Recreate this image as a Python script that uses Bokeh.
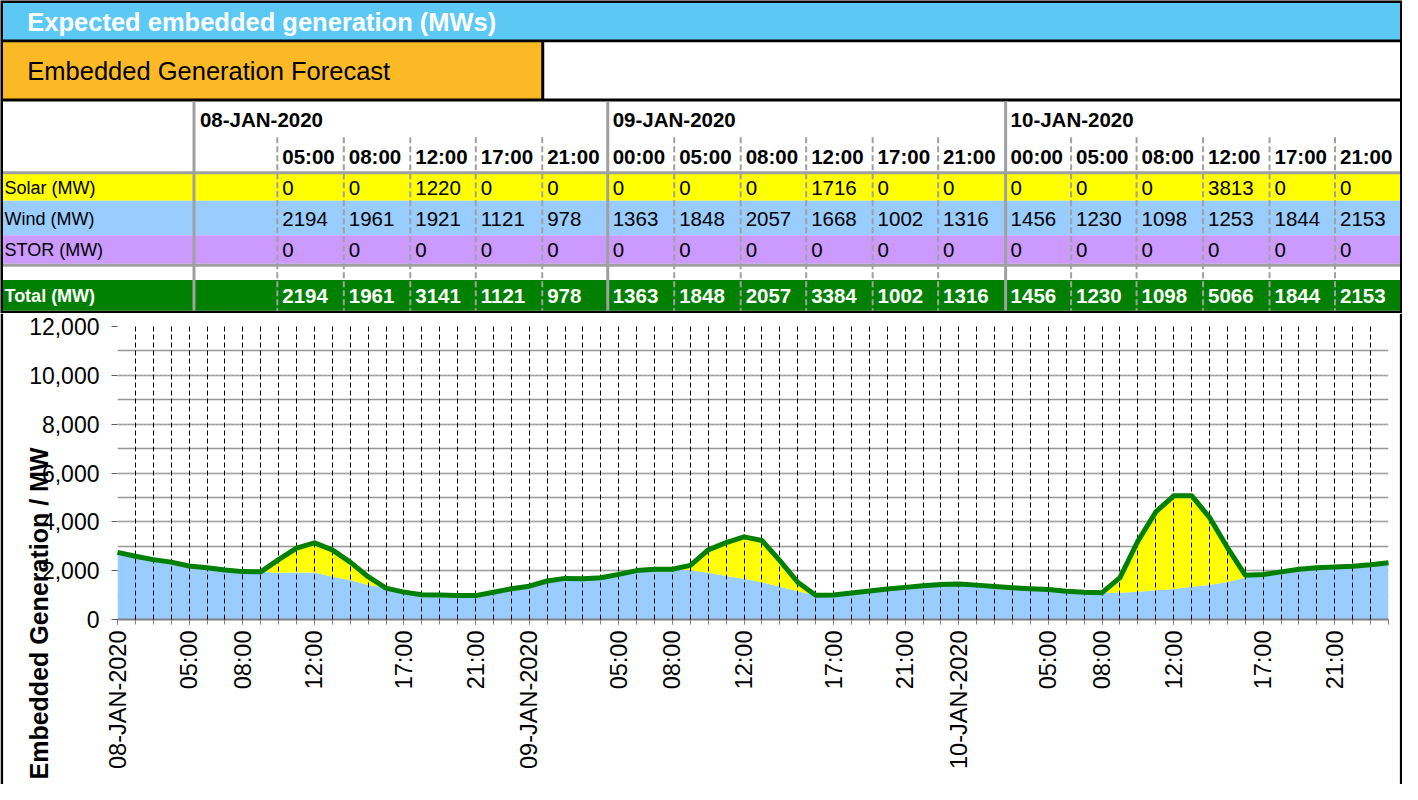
import math
from bokeh.plotting import figure
from bokeh.models import (Range1d, ColumnDataSource, FixedTicker, SingleIntervalTicker,
                          NumeralTickFormatter, GridBox)
from bokeh.layouts import column
from bokeh.core.properties import value
from bokeh.embed import file_html
from bokeh.resources import INLINE

# ---------------- data ----------------
title_text = "Expected embedded generation (MWs)"
subtitle_text = "Embedded Generation Forecast"
y_title = "Embedded Generation / MW"
dates = ["08-JAN-2020", "09-JAN-2020", "10-JAN-2020"]
row_labels = ["Solar (MW)", "Wind (MW)", "STOR (MW)", "Total (MW)"]
table_times = ["05:00", "08:00", "12:00", "17:00", "21:00",
               "00:00", "05:00", "08:00", "12:00", "17:00", "21:00",
               "00:00", "05:00", "08:00", "12:00", "17:00", "21:00"]
solar_tab = [0, 0, 1220, 0, 0, 0, 0, 0, 1716, 0, 0, 0, 0, 0, 3813, 0, 0]
wind_tab = [2194, 1961, 1921, 1121, 978, 1363, 1848, 2057, 1668, 1002, 1316,
            1456, 1230, 1098, 1253, 1844, 2153]
stor_tab = [0, 0, 0, 0, 0, 0, 0, 0, 0, 0, 0, 0, 0, 0, 0, 0, 0]
total_tab = [2194, 1961, 3141, 1121, 978, 1363, 1848, 2057, 3384, 1002, 1316,
             1456, 1230, 1098, 5066, 1844, 2153]

# hourly chart series (72 categories)
wind_mw = [2748, 2588, 2453, 2350, 2194, 2123, 2031, 1961, 1951, 1911,
           1924, 1921, 1752, 1617, 1418, 1286, 1121, 1015, 1000, 980,
           978, 1115, 1260, 1363, 1577, 1684, 1670, 1712, 1848, 2003,
           2055, 2057, 2015, 1911, 1777, 1668, 1525, 1340, 1155, 996,
           1002, 1087, 1167, 1247, 1316, 1380, 1430, 1456, 1408, 1355,
           1301, 1262, 1230, 1160, 1115, 1098, 1100, 1140, 1195, 1253,
           1340, 1418, 1538, 1712, 1844, 1951, 2055, 2123, 2153, 2180,
           2242, 2322]
solar_mw = [0, 0, 0, 0, 0, 0, 0, 0, 0, 542,
            995, 1220, 1100, 733, 334, 0, 0, 0, 0, 0,
            0, 0, 0, 0, 0, 0, 0, 0, 0, 0,
            0, 0, 200, 941, 1369, 1716, 1713, 1073, 370, 0,
            0, 0, 0, 0, 0, 0, 0, 0, 0, 0,
            0, 0, 0, 0, 0, 0, 612, 2070, 3210, 3813,
            3730, 2764, 1409, 104, 0, 0, 0, 0, 0, 0,
            0, 0]
stor_mw = [0] * 72
tick_positions = [0, 4, 7, 11, 16, 20, 23, 28, 31, 35, 40, 44, 47, 52, 55, 59, 64, 68]
tick_labels = ["08-JAN-2020", "05:00", "08:00", "12:00", "17:00", "21:00",
               "09-JAN-2020", "05:00", "08:00", "12:00", "17:00", "21:00",
               "10-JAN-2020", "05:00", "08:00", "12:00", "17:00", "21:00"]

FONT = "Liberation Sans"
YELLOW = "#FFFF00"
WIND = "#99CCFF"
STOR = "#CC99FF"
GREEN = "#008000"
GRAY = "#A0A0A0"

W = 1402
HDR_H = 313
CH_H = 471

# ---------------- header / table ----------------
hdr = figure(width=W, height=HDR_H, x_range=Range1d(3, 1416), y_range=Range1d(321, 3),
             output_backend="svg", toolbar_location=None, min_border=0,
             outline_line_color=None, title=None)
hdr.xaxis.visible = False
hdr.yaxis.visible = False
hdr.xgrid.visible = False
hdr.ygrid.visible = False
hdr.background_fill_color = "black"
hdr.border_fill_color = "black"

L, R = 5.5, 1413.5
hdr.quad(left=[L, L, 551, L], right=[R, 548, R, R], top=[5.5, 45.5, 45.5, 105.5],
         bottom=[42.5, 102.5, 102.5, 318],
         fill_color=["#5BC9F4", "#FBBA25", "white", "white"], line_color=None)
hdr.quad(left=L, right=R, top=[179, 206.5, 241.5, 287], bottom=[206.5, 241.5, 270.5, 318],
         fill_color=[YELLOW, WIND, STOR, GREEN], line_color=None)

col_left = [282, 349, 416, 482, 549, 615, 682, 749, 815, 882, 948,
            1016, 1082, 1148, 1215, 1282, 1348]
solid_x = [198, 615, 1016]
dash_x = [c for c in col_left if c not in solid_x]
hdr.segment(x0=dash_x, y0=142, x1=dash_x, y1=318, line_color=GRAY, line_width=2,
            line_dash="6 3")
hdr.segment(x0=[L, L], y0=[178, 272], x1=[R, R], y1=[178, 272], line_color=GRAY, line_width=3)
hdr.segment(x0=solid_x, y0=105.5, x1=solid_x, y1=318, line_color=GRAY, line_width=3)

hdr.text(x=[30], y=[24.5], text=[title_text], text_font=value(FONT), text_font_size="25.5px",
         text_font_style="bold", text_color="white", text_baseline="middle")
hdr.text(x=[30], y=[74.5], text=[subtitle_text], text_font=value(FONT), text_font_size="25.5px",
         text_color="black", text_baseline="middle")
hdr.text(x=[204, 620, 1021], y=[124, 124, 124], text=dates, text_font=value(FONT),
         text_font_size="20.5px", text_font_style="bold", text_color="black",
         text_baseline="middle")
tx = [c + 5 for c in col_left]
hdr.text(x=tx, y=[161.5] * len(tx), text=table_times, text_font=value(FONT),
         text_font_size="20.5px", text_font_style="bold", text_color="black",
         text_baseline="middle")
hdr.text(x=[7, 7, 7], y=[193, 225, 256], text=row_labels[:3], text_font=value(FONT),
         text_font_size="18px", text_color="black", text_baseline="middle")
hdr.text(x=[7], y=[303.5], text=[row_labels[3]], text_font=value(FONT),
         text_font_size="18px", text_font_style="bold", text_color="white",
         text_baseline="middle")
for vals, yy in ((solar_tab, 193), (wind_tab, 225), (stor_tab, 256)):
    hdr.text(x=tx, y=[yy] * len(tx), text=[str(v) for v in vals], text_font=value(FONT),
             text_font_size="20.5px", text_color="black", text_baseline="middle")
hdr.text(x=tx, y=[303.5] * len(tx), text=[str(v) for v in total_tab], text_font=value(FONT),
         text_font_size="20.5px", text_font_style="bold", text_color="white",
         text_baseline="middle")

# ---------------- chart ----------------
xs = list(range(len(wind_mw)))
total_mw = [w + s + t for w, s, t in zip(wind_mw, solar_mw, stor_mw)]
src = ColumnDataSource(dict(x=xs, wind=wind_mw, solar=solar_mw, stor=stor_mw, total=total_mw))

p = figure(width=W, height=CH_H, x_range=Range1d(0, len(xs) - 1), y_range=Range1d(0, 12000),
           output_backend="svg", toolbar_location=None, title=None,
           min_border_left=117, min_border_right=14, min_border_top=13, min_border_bottom=165,
           outline_line_color=None)
p.background_fill_color = "white"
p.border_fill_color = "white"
p.frame_align = False

p.varea_stack(stackers=["wind", "solar", "stor"], x="x", color=[WIND, YELLOW, STOR], source=src)
ln = p.line("x", "total", source=src, line_color=GREEN, line_width=5, line_join="round")
ln.level = "overlay"

yt = SingleIntervalTicker(interval=2000, num_minor_ticks=2)
p.yaxis.ticker = yt
p.ygrid.ticker = yt
p.yaxis.formatter = NumeralTickFormatter(format="0,0")
p.yaxis.major_label_text_font = FONT
p.yaxis.major_label_text_font_size = "23px"
p.yaxis.major_label_text_color = "black"
p.yaxis.axis_line_color = None
p.yaxis.major_tick_out = 6
p.yaxis.major_tick_in = 0
p.yaxis.major_tick_line_color = "#595959"
p.yaxis.minor_tick_line_color = None
p.yaxis.major_label_standoff = 12
p.ygrid.grid_line_color = "#B4B4B4"
p.ygrid.grid_line_dash = "2 2"
p.ygrid.grid_line_width = 1.5
p.ygrid.minor_grid_line_color = "#969696"
p.ygrid.minor_grid_line_width = 1.5

xt = FixedTicker(ticks=tick_positions, minor_ticks=xs)
p.xaxis.ticker = xt
p.xaxis.major_label_overrides = {k: v for k, v in zip(tick_positions, tick_labels)}
p.xaxis.major_label_orientation = math.pi / 2
p.xaxis.major_label_text_font = FONT
p.xaxis.major_label_text_font_size = "23.5px"
p.xaxis.major_label_text_color = "black"
p.xaxis.axis_line_color = "#808080"
p.xaxis.axis_line_width = 2
p.xaxis.major_tick_out = 5
p.xaxis.major_tick_in = 0
p.xaxis.minor_tick_out = 5
p.xaxis.minor_tick_in = 0
p.xaxis.major_tick_line_color = "#808080"
p.xaxis.minor_tick_line_color = "#808080"
p.xaxis.major_label_standoff = 6

p.xgrid.ticker = FixedTicker(ticks=xs)
p.xgrid.grid_line_color = "black"
p.xgrid.grid_line_dash = "5 3"
p.xgrid.grid_line_width = 1
p.xgrid.level = "guide"

# transparent overlay for the section frame and the rotated axis title
ov = figure(width=W, height=CH_H, x_range=Range1d(0, W), y_range=Range1d(CH_H, 0),
            output_backend="svg", toolbar_location=None, min_border=0,
            outline_line_color=None, title=None)
ov.frame_align = False
ov.xaxis.visible = False
ov.yaxis.visible = False
ov.xgrid.visible = False
ov.ygrid.visible = False
ov.background_fill_color = None
ov.border_fill_color = None
ov.quad(left=[0, W - 2.6], right=[2.6, W], top=0, bottom=CH_H, fill_color="black",
        line_color=None)
ov.text(x=[38.7], y=[300], text=[y_title], angle=math.pi / 2, text_align="center",
        text_baseline="middle", text_font=value(FONT), text_font_size="25px",
        text_font_style="bold", text_color="black")

chart_box = GridBox(children=[(p, 0, 0), (ov, 0, 0)])
layout = column(hdr, chart_box, spacing=0)
open("out.html", "w").write(file_html(layout, INLINE))
